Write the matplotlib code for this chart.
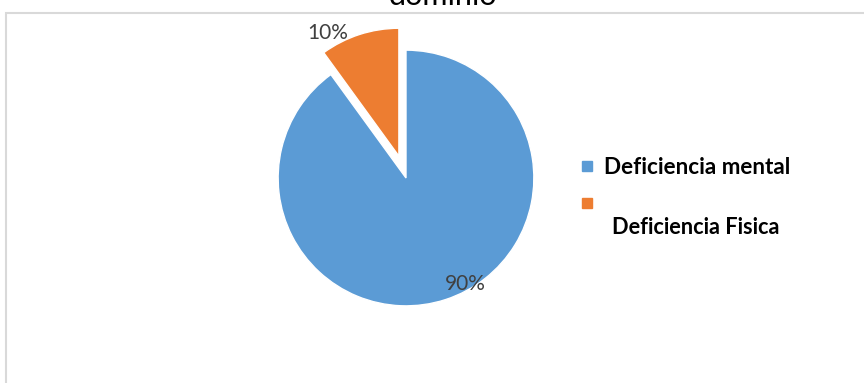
import matplotlib.pyplot as plt
from matplotlib.lines import Line2D
from matplotlib.patches import Rectangle

# Datos del grafico
categorias = ['Deficiencia mental', 'Deficiencia Fisica']
porcentajes = [90, 10]
etiquetas = ['90%', '10%']
colores = ['#5B9BD5', '#ED7D31']
titulo = 'dominio'

plt.rcParams['font.family'] = ['Lato', 'DejaVu Sans']

fig = plt.figure(figsize=(8.64, 3.83), dpi=100)

# marco del area del grafico (sale por la derecha y por abajo)
fig.patches.append(Rectangle((6 / 864, -0.2), 1.2, 1.2 - 12.5 / 383,
                             transform=fig.transFigure, fill=False,
                             edgecolor='#d9d9d9', linewidth=1.5))

# titulo cortado en la parte de arriba
fig.text(443 / 864, 1 - 5 / 383, titulo, ha='center', va='baseline',
         fontsize=22, color='#000000')

ax = fig.add_axes([227 / 864, 26 / 383, 358 / 864, 358 / 383])
wedges, _ = ax.pie(porcentajes, colors=colores, startangle=90,
                   counterclock=False, explode=[0, 0.18],
                   wedgeprops=dict(edgecolor='white', linewidth=1))
ax.set_xlim(-1.4, 1.4)
ax.set_ylim(-1.4, 1.4)
ax.set_aspect('equal')
ax.axis('off')

# posiciones de las etiquetas de porcentaje
pos_etiquetas = [(0.465, -0.83), (-0.609, 1.133)]
for txt, (x, y) in zip(etiquetas, pos_etiquetas):
    ax.text(x, y, txt, ha='center', va='center', fontsize=15,
            color='#404040')

# leyenda: la segunda etiqueta va en la linea de abajo
handles = [Line2D([], [], marker='s', linestyle='none', markersize=7.5,
                  markerfacecolor=c, markeredgecolor=c) for c in colores]
leg = fig.legend(handles, [categorias[0], ' '], loc='upper left',
                 bbox_to_anchor=(580 / 864, 1 - 157 / 383), frameon=False,
                 prop=dict(family='Lato', weight='bold', size=16.2),
                 handlelength=0.6, handletextpad=0.45, labelspacing=0.7,
                 borderpad=0, borderaxespad=0)
fig.text(612 / 864, 1 - 227 / 383, categorias[1], ha='left', va='center',
         fontsize=15.7, fontweight='bold')

fig.savefig('out.png', dpi=100)
